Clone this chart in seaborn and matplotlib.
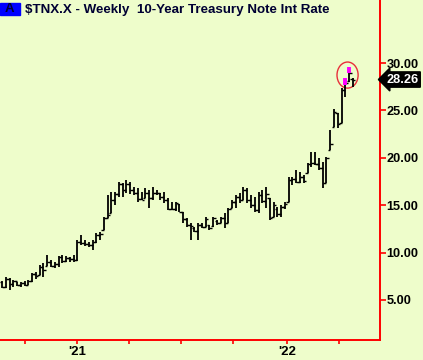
import numpy as np
import pandas as pd
import matplotlib.pyplot as plt
import seaborn as sns
from matplotlib.patches import Ellipse, Rectangle

# Weekly $TNX.X bars, oldest first (yield x10)
highs = [7.0, 7.4, 7.3, 7.1, 6.9, 6.9, 7.0, 7.1, 7.8, 8.0,
         8.7, 8.9, 9.7, 9.2, 9.0, 9.6, 9.7, 9.6, 9.5, 9.7,
         11.3, 11.9, 11.3, 11.1, 11.3, 12.1, 12.2, 13.8, 16.1, 16.4,
         16.4, 17.4, 17.3, 17.7, 17.4, 16.9, 16.8, 16.4, 16.8, 16.6,
         16.9, 16.6, 16.3, 16.4, 15.8, 15.3, 15.3, 15.1, 14.3, 13.6,
         13.1, 12.7, 13.1, 13.1, 13.8, 12.9, 13.8, 13.4, 13.8, 14.2,
         14.7, 15.5, 16.1, 16.3, 16.9, 16.8, 16.1, 15.9, 16.4, 16.6,
         16.9, 15.8, 15.3, 14.8, 15.0, 15.3, 18.0, 18.0, 18.7, 18.5,
         18.2, 19.5, 20.6, 20.6, 20.0, 19.6, 20.1, 22.9, 25.1, 24.7,
         27.4, 28.4, 29.6, 28.4]
lows = [6.3, 6.3, 6.1, 6.4, 6.5, 6.4, 6.5, 6.6, 6.9, 7.2,
        7.6, 7.4, 8.6, 8.5, 8.4, 8.5, 8.9, 9.0, 9.0, 9.0,
        9.1, 10.8, 10.7, 10.6, 10.3, 11.0, 11.3, 12.4, 13.6, 14.2,
        15.0, 15.9, 15.9, 16.3, 16.2, 16.1, 15.3, 15.5, 15.8, 14.7,
        15.5, 16.1, 15.5, 15.2, 14.5, 14.5, 14.4, 14.3, 13.1, 12.7,
        11.3, 12.2, 11.3, 12.6, 12.7, 12.4, 12.7, 12.9, 13.1, 12.6,
        13.1, 14.7, 14.7, 15.2, 15.5, 15.2, 14.7, 14.3, 14.2, 15.2,
        14.7, 13.4, 13.8, 13.8, 13.8, 14.6, 15.3, 17.1, 17.3, 17.3,
        17.3, 18.4, 19.0, 19.2, 18.7, 16.8, 17.3, 20.8, 23.2, 23.1,
        23.7, 26.4, 28.0, 27.5]
opens = [6.9, 6.4, 7.2, 6.7, 7.0, 6.6, 6.8, 6.6, 7.0, 7.7,
         7.6, 8.5, 8.6, 9.0, 8.6, 8.8, 9.5, 9.1, 9.4, 9.3,
         9.2, 11.1, 11.0, 10.9, 10.8, 11.1, 11.9, 12.4, 13.6, 14.2,
         15.6, 16.2, 17.2, 16.6, 17.2, 16.6, 16.3, 15.7, 15.8, 16.3,
         15.8, 16.3, 16.3, 15.9, 15.5, 14.6, 14.6, 15.1, 14.3, 13.5,
         12.9, 12.6, 12.3, 12.9, 12.7, 12.9, 12.8, 13.3, 13.1, 13.7,
         13.1, 14.7, 15.3, 15.9, 15.6, 16.6, 15.5, 15.0, 14.5, 16.1,
         15.4, 15.8, 13.8, 14.6, 14.1, 14.8, 15.3, 17.7, 17.8, 17.5,
         18.0, 18.4, 19.3, 19.5, 19.4, 18.9, 17.3, 20.8, 23.2, 24.7,
         23.7, 27.2, 28.1, 28.3]
closes = [6.4, 7.2, 6.7, 7.0, 6.6, 6.8, 6.6, 7.0, 7.7, 7.5,
          8.5, 8.2, 9.0, 8.6, 8.8, 9.5, 9.1, 9.4, 9.3, 9.2,
          11.1, 11.0, 10.9, 10.8, 11.1, 11.9, 12.0, 13.6, 14.0, 15.6,
          16.2, 17.2, 16.6, 17.2, 16.6, 16.3, 15.7, 15.6, 16.3, 15.8,
          16.3, 16.3, 15.9, 15.5, 14.6, 14.6, 15.2, 14.3, 13.5, 12.9,
          12.8, 12.3, 12.9, 12.7, 13.5, 12.6, 13.6, 13.1, 13.7, 13.1,
          14.6, 15.3, 15.9, 15.6, 16.6, 15.5, 15.0, 14.5, 16.1, 15.4,
          16.2, 13.6, 15.0, 14.1, 14.8, 15.1, 17.7, 17.8, 17.5, 18.0,
          17.6, 19.3, 19.5, 19.4, 18.9, 17.3, 20.0, 21.5, 24.8, 23.6,
          27.2, 27.9, 28.9, 28.26]

# bars with a magenta upper part: bar index and where the magenta starts
flag_bars = [91, 92]
flag_from = [27.7, 28.9]

ytick_vals = [5, 10, 15, 20, 25, 30]
year_pos = [19.9, 75.6]
year_labels = ["'21", "'22"]
quarter_pos = [6.1, 33.7, 47.5, 61.3, 89.4]
last_close = 28.26

df = pd.DataFrame({'open': opens, 'high': highs, 'low': lows, 'close': closes})
df['bar'] = np.arange(len(df))

bg = '#EEFDCB'
sns.set_theme(style='white', rc={'axes.facecolor': bg, 'figure.facecolor': bg})
plt.rcParams['font.family'] = ['Liberation Sans', 'DejaVu Sans']

fig = plt.figure(figsize=(4.23, 3.6), dpi=100)
ax = fig.add_axes([0, 20 / 360, 380 / 423, 340 / 360])

# OHLC bars
ax.vlines(df['bar'], df['low'], df['high'], color='black', lw=1.3)
ax.hlines(df['open'], df['bar'] - 0.65, df['bar'], color='black', lw=1.0)
ax.hlines(df['close'], df['bar'], df['bar'] + 0.65, color='black', lw=1.0)
ax.vlines(flag_bars, flag_from, df['high'].iloc[flag_bars], color='#FF00FF', lw=2.8)

ax.add_patch(Ellipse((91.6, 28.73), 5.6, 2.75, fill=False, ec='#E8303A', lw=1.0))

ax.set_xlim(-0.53, 100.2)
ax.set_ylim(0.78, 36.65)

# axes styling
sns.despine(ax=ax, left=True, top=True, right=False, bottom=False)
for side in ['right', 'bottom']:
    ax.spines[side].set_color('#FF0000')
    ax.spines[side].set_linewidth(1.4)

ax.yaxis.tick_right()
ax.set_yticks(ytick_vals, labels=[f'{v:.2f}' for v in ytick_vals])
ax.set_xticks(year_pos, labels=year_labels)
ax.set_xticks(quarter_pos, minor=True)
ax.tick_params(axis='y', which='both', right=True, left=False, color='#FF0000',
               labelcolor='black', length=4, width=1.2, direction='out', pad=0.8, labelsize=9.2)
ax.tick_params(axis='x', which='both', bottom=True, color='#FF0000', labelcolor='black',
               length=3, width=1.2, direction='out', pad=1, labelsize=9.5)
for lbl in ax.get_yticklabels() + ax.get_xticklabels():
    lbl.set_fontweight('bold')
ax.grid(False)

# last close marker on the scale
ax.text(1.0 + 6.5 / 380, last_close, f'{last_close:.2f}', transform=ax.get_yaxis_transform(),
        ha='left', va='center', color='white', fontsize=9.2, fontweight='bold', clip_on=False,
        bbox=dict(boxstyle='larrow,pad=0.13', fc='black', ec='black'))

# title with blue "A" box
fig.add_artist(Rectangle((0, 1 - 15 / 360), 20 / 423, 12 / 360, transform=fig.transFigure,
                         color='#0000FF', zorder=3))
fig.text(5 / 423, 1 - 9.5 / 360, 'A', ha='left', va='center', fontsize=9.5,
         fontweight='bold', color='#000033', zorder=4)
fig.text(25 / 423, 1 - 9.5 / 360, '\\$TNX.X - Weekly  10-Year Treasury Note Int Rate',
         ha='left', va='center', fontsize=9.6, fontweight='bold', color='#000033', zorder=4)

fig.savefig('out.png', dpi=100, facecolor=bg)
